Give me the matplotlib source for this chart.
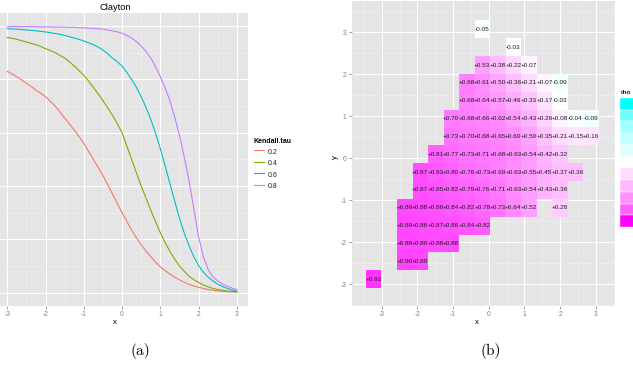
import numpy as np
import matplotlib
matplotlib.use("Agg")
import matplotlib.pyplot as plt
from matplotlib.colors import ListedColormap, Normalize
from matplotlib.patches import Rectangle
from matplotlib.ticker import MultipleLocator

plt.rcParams['font.family'] = ['Liberation Sans', 'DejaVu Sans']
plt.rcParams['axes.unicode_minus'] = False

# ---------------- Panel (a) data: Clayton curves ----------------
x_a = [-3.0, -2.875, -2.75, -2.625, -2.5, -2.375, -2.25, -2.125, -2.0, -1.875, -1.75, -1.625,
       -1.5, -1.375, -1.25, -1.125, -1.0, -0.875, -0.75, -0.625, -0.5, -0.375, -0.25, -0.125,
       0.0, 0.125, 0.25, 0.375, 0.5, 0.625, 0.75, 0.875, 1.0, 1.125, 1.25, 1.375,
       1.5, 1.625, 1.75, 1.875, 2.0, 2.125, 2.25, 2.375, 2.5, 2.625, 2.75, 2.875, 3.0]
tau_labels = ['0.2', '0.4', '0.6', '0.8']
clayton_02 = [0.83, 0.82, 0.81, 0.798, 0.785, 0.773, 0.76, 0.748, 0.735, 0.718, 0.70, 0.678,
              0.655, 0.633, 0.61, 0.586, 0.56, 0.53, 0.50, 0.47, 0.44, 0.405, 0.37, 0.335,
              0.30, 0.267, 0.235, 0.206, 0.18, 0.156, 0.135, 0.115, 0.097, 0.083, 0.07, 0.058,
              0.048, 0.039, 0.031, 0.025, 0.02, 0.016, 0.012, 0.009, 0.007, 0.005, 0.004, 0.003, 0.002]
clayton_04 = [0.957, 0.954, 0.95, 0.945, 0.94, 0.935, 0.93, 0.923, 0.915, 0.908, 0.90, 0.89,
              0.88, 0.866, 0.85, 0.833, 0.815, 0.794, 0.77, 0.746, 0.72, 0.693, 0.665, 0.634,
              0.60, 0.55, 0.50, 0.45, 0.40, 0.355, 0.31, 0.266, 0.225, 0.188, 0.155, 0.126,
              0.10, 0.08, 0.062, 0.049, 0.038, 0.029, 0.022, 0.016, 0.012, 0.009, 0.006, 0.004, 0.003]
clayton_06 = [0.99, 0.989, 0.988, 0.987, 0.985, 0.984, 0.982, 0.98, 0.978, 0.975, 0.972, 0.969,
              0.965, 0.96, 0.955, 0.95, 0.944, 0.937, 0.93, 0.921, 0.91, 0.896, 0.88, 0.866,
              0.85, 0.826, 0.80, 0.77, 0.735, 0.695, 0.65, 0.598, 0.54, 0.476, 0.41, 0.344,
              0.28, 0.224, 0.176, 0.135, 0.102, 0.077, 0.058, 0.044, 0.032, 0.023, 0.016, 0.01, 0.006]
clayton_08 = [0.998, 0.998, 0.998, 0.998, 0.998, 0.998, 0.997, 0.997, 0.997, 0.997, 0.996, 0.996,
              0.996, 0.995, 0.995, 0.994, 0.993, 0.992, 0.991, 0.99, 0.988, 0.985, 0.982, 0.978,
              0.973, 0.965, 0.955, 0.942, 0.925, 0.905, 0.88, 0.848, 0.81, 0.768, 0.72, 0.66,
              0.59, 0.51, 0.42, 0.315, 0.21, 0.135, 0.087, 0.06, 0.044, 0.032, 0.024, 0.017, 0.012]
series_a = [clayton_02, clayton_04, clayton_06, clayton_08]
colors_a = ['#F8766D', '#7CAE00', '#00BFC4', '#C77CFF']

# ---------------- Panel (b) data: rho tiles ----------------
x_centers = [-3.22, -2.79, -2.35, -1.92, -1.48, -1.05, -0.61, -0.18, 0.26, 0.69,
             1.13, 1.56, 2.00, 2.43, 2.86, 3.30]
y_centers = [3.07, 2.645, 2.22, 1.795, 1.37, 0.945, 0.52, 0.095, -0.33, -0.755,
             -1.18, -1.605, -2.03, -2.455, -2.88]
row_start_col = [7, 9, 7, 6, 6, 5, 5, 4, 3, 3, 2, 2, 2, 2, 0]
row_values = [
    [-0.05],
    [-0.03],
    [0.53, 0.38, 0.22, 0.07],
    [0.68, 0.61, 0.50, 0.36, 0.21, 0.07, -0.09],
    [0.68, 0.64, 0.57, 0.46, 0.33, 0.17, -0.03],
    [0.70, 0.68, 0.66, 0.62, 0.54, 0.43, 0.26, 0.08, -0.04, -0.09],
    [0.73, 0.70, 0.68, 0.65, 0.60, 0.50, 0.35, 0.21, 0.15, 0.16],
    [0.81, 0.77, 0.73, 0.71, 0.68, 0.63, 0.54, 0.42, 0.32],
    [0.87, 0.83, 0.80, 0.76, 0.73, 0.69, 0.63, 0.55, 0.45, 0.37, 0.36],
    [0.87, 0.85, 0.82, 0.79, 0.76, 0.71, 0.63, 0.54, 0.43, 0.36],
    [0.89, 0.88, 0.86, 0.84, 0.82, 0.78, 0.73, 0.64, 0.52, None, 0.28],
    [0.89, 0.88, 0.87, 0.86, 0.84, 0.82],
    [0.89, 0.89, 0.88, 0.88],
    [0.90, 0.89],
    [0.93],
]
legend_breaks = [-1.0, -0.8, -0.6, -0.4, -0.2, 0.0, 0.2, 0.4, 0.6, 0.8, 1.0]

# ---------------- colour scale (Lab interpolation, like gradient2) ----------------
_M = np.array([[0.4124, 0.3576, 0.1805], [0.2126, 0.7152, 0.0722], [0.0193, 0.1192, 0.9505]])
_WP = np.array([0.95047, 1.0, 1.08883])

def _to_lab(rgb):
    c = np.asarray(rgb, float)
    lin = np.where(c <= 0.04045, c / 12.92, ((c + 0.055) / 1.055) ** 2.4)
    xyz = _M @ lin / _WP
    d = 6 / 29
    f = np.where(xyz > d ** 3, np.cbrt(xyz), xyz / (3 * d * d) + 4 / 29)
    return np.array([116 * f[1] - 16, 500 * (f[0] - f[1]), 200 * (f[1] - f[2])])

def _from_lab(lab):
    L, a, b = lab
    fy_ = (L + 16) / 116
    f = np.array([fy_ + a / 500, fy_, fy_ - b / 200])
    d = 6 / 29
    xyz = np.where(f > d, f ** 3, 3 * d * d * (f - 4 / 29)) * _WP
    lin = np.clip(np.linalg.inv(_M) @ xyz, 0, 1)
    c = np.where(lin <= 0.0031308, 12.92 * lin, 1.055 * lin ** (1 / 2.4) - 0.055)
    return np.clip(c, 0, 1)

lab_low, lab_mid, lab_high = _to_lab([0, 1, 1]), _to_lab([1, 1, 1]), _to_lab([1, 0, 1])
_cols = []
for v in np.linspace(-1, 1, 256):
    if v < 0:
        lab = lab_mid + (-v) * (lab_low - lab_mid)
    else:
        lab = lab_mid + v * (lab_high - lab_mid)
    _cols.append(_from_lab(lab))
cmap = ListedColormap(_cols)
norm = Normalize(-1, 1)

# ---------------- figure ----------------
W, H = 633, 380
fig = plt.figure(figsize=(W / 100, H / 100), dpi=100)
fig.patch.set_facecolor('white')

def fx(px):
    return px / W

def fy(py):
    return 1 - py / H

tick_col = '#7F7F7F'
panel_bg = '#E5E5E5'

def style_axes(ax):
    ax.set_facecolor(panel_bg)
    for s in ax.spines.values():
        s.set_visible(False)
    ax.set_axisbelow(True)
    ax.grid(which='major', color='white', linewidth=0.8)
    ax.grid(which='minor', color='#F2F2F2', linewidth=0.4)
    ax.tick_params(which='major', length=2.3, width=0.5, color=tick_col,
                   labelcolor=tick_col, labelsize=4.8, pad=1.5)
    ax.tick_params(which='minor', length=0)

# ---- Panel (a)
left_a, right_a, top_a, bot_a = -4.2, 248.3, 12.7, 306
ax1 = fig.add_axes([fx(left_a), fy(bot_a), (right_a - left_a) / W, (bot_a - top_a) / H])
style_axes(ax1)
for ys, col, lab in zip(series_a, colors_a, tau_labels):
    ax1.plot(x_a, ys, color=col, linewidth=0.8, label=lab)
ax1.set_xlim(-3.3, 3.3)
ax1.set_ylim(-0.05, 1.05)
ax1.xaxis.set_major_locator(MultipleLocator(1))
ax1.xaxis.set_minor_locator(MultipleLocator(0.5))
ax1.yaxis.set_major_locator(MultipleLocator(0.2))
ax1.yaxis.set_minor_locator(MultipleLocator(0.1))
ax1.tick_params(axis='y', labelleft=False, left=False)
ax1.set_title('Clayton', fontsize=6.7, x=(115.2 - left_a) / (right_a - left_a), pad=2.0)
ax1.set_xlabel('x', fontsize=5.5)
ax1.xaxis.set_label_coords((115 - left_a) / (right_a - left_a), -(322.7 - bot_a) / (bot_a - top_a))
ax1.xaxis.label.set_va('center')

leg = ax1.legend(title='Kendall.tau', loc='upper left', bbox_to_anchor=(fx(254), fy(137.5)),
                 bbox_transform=fig.transFigure, frameon=False, fontsize=5, title_fontsize=5,
                 handlelength=1.37, handleheight=1.7, labelspacing=0.32, handletextpad=0.55,
                 borderpad=0, borderaxespad=0, alignment='left')
leg.get_title().set_fontweight('bold')
for t in leg.get_texts():
    t.set_color('#222222')

# ---- Panel (b)
left_b, right_b, top_b, bot_b = 351.7, 615, 1, 306
ax2 = fig.add_axes([fx(left_b), fy(bot_b), (right_b - left_b) / W, (bot_b - top_b) / H])
style_axes(ax2)

nrow, ncol = len(y_centers), len(x_centers)
Z = np.full((nrow, ncol), np.nan)
for r, (c0, vals) in enumerate(zip(row_start_col, row_values)):
    for k, v in enumerate(vals):
        if v is not None:
            Z[r, c0 + k] = v

xc = np.array(x_centers)
yc = np.array(y_centers)
xe = np.concatenate([[xc[0] - (xc[1] - xc[0]) / 2], (xc[:-1] + xc[1:]) / 2, [xc[-1] + (xc[-1] - xc[-2]) / 2]])
ye = np.concatenate([[yc[0] - (yc[1] - yc[0]) / 2], (yc[:-1] + yc[1:]) / 2, [yc[-1] + (yc[-1] - yc[-2]) / 2]])
ax2.pcolormesh(xe, ye, np.ma.masked_invalid(Z), cmap=cmap, norm=norm, shading='flat',
               edgecolors='none', zorder=2)
for r in range(nrow):
    for c in range(ncol):
        v = Z[r, c]
        if not np.isnan(v):
            ax2.text(xc[c], yc[r], '%+.2f' % v, ha='center', va='center',
                     fontsize=4.6, color='#1a1a1a', zorder=3)

ax2.set_xlim(-3.84, 3.54)
ax2.set_ylim(-3.52, 3.745)
ax2.xaxis.set_major_locator(MultipleLocator(1))
ax2.xaxis.set_minor_locator(MultipleLocator(0.5))
ax2.yaxis.set_major_locator(MultipleLocator(1))
ax2.yaxis.set_minor_locator(MultipleLocator(0.5))
ax2.set_xlabel('x', fontsize=5.5)
ax2.xaxis.set_label_coords((476.7 - left_b) / (right_b - left_b), -(322.7 - bot_b) / (bot_b - top_b))
ax2.xaxis.label.set_va('center')
ax2.set_ylabel('y', fontsize=5.5)
ax2.yaxis.set_label_coords((335 - left_b) / (right_b - left_b), (bot_b - 157) / (bot_b - top_b))
ax2.yaxis.label.set_va('center')

# rho legend (discrete keys)
fig.text(fx(621), fy(93), 'rho', fontsize=4.6, fontweight='bold', ha='left', va='center',
         color='#222222')
key_top, key_h, key_x, key_w = 98, 11.73, 620, 16
for i, b in enumerate(legend_breaks):
    y0 = key_top + i * key_h
    fig.add_artist(Rectangle((fx(key_x), fy(y0 + key_h)), key_w / W, key_h / H,
                             transform=fig.transFigure, facecolor=cmap(norm(b)),
                             edgecolor='white', linewidth=0.3))

# captions
fig.text(fx(140), fy(351), '(a)', fontsize=11, family='cmr10', ha='center', va='center')
fig.text(fx(491), fy(351), '(b)', fontsize=11, family='cmr10', ha='center', va='center')

fig.savefig('out.png', dpi=100)
